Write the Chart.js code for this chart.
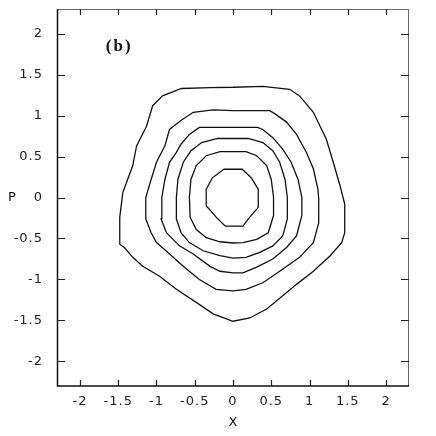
<!DOCTYPE html>
<html>
<head>
<meta charset="utf-8">
<script src="https://cdn.jsdelivr.net/npm/chart.js@4.4.0/dist/chart.umd.min.js"></script>
<style>
  html, body { margin: 0; padding: 0; background: #fff; }
  #wrap { width: 436px; height: 436px; }
</style>
</head>
<body>
<div id="wrap"><canvas id="c" width="436" height="436"></canvas></div>
<script>
// contour levels, outer to inner, each a closed list of [X, P] points
const curve1 = [[0,1.345],[0.39,1.355],[0.74,1.32],[0.87,1.24],[1.05,1.04],[1.22,0.71],[1.31,0.43],[1.40,0.14],[1.46,-0.08],
    [1.46,-0.43],[1.42,-0.55],[1.27,-0.71],[1.05,-0.90],[0.83,-1.06],[0.65,-1.20],[0.44,-1.36],[0.22,-1.47],[0,-1.51],
    [-0.26,-1.42],[-0.48,-1.28],[-0.74,-1.12],[-0.96,-0.96],[-1.18,-0.84],[-1.31,-0.73],[-1.42,-0.61],[-1.48,-0.57],
    [-1.48,-0.24],[-1.44,0.06],[-1.31,0.39],[-1.26,0.63],[-1.13,0.87],[-1.05,1.12],[-0.92,1.24],[-0.675,1.33],[-0.3,1.34],[0,1.345]];
const curve2 = [[0,1.06],[0.48,1.06],[0.55,1.02],[0.70,0.92],[0.83,0.77],[0.96,0.55],[1.05,0.35],[1.11,0.10],[1.12,-0.02],
    [1.12,-0.31],[1.05,-0.55],[0.87,-0.73],[0.61,-0.90],[0.39,-1.04],[0.17,-1.12],[0,-1.14],[-0.22,-1.12],[-0.44,-1.0],
    [-0.65,-0.84],[-0.85,-0.67],[-1.0,-0.55],[-1.07,-0.43],[-1.14,-0.26],[-1.14,0],[-1.07,0.22],[-1.0,0.43],[-0.89,0.63],
    [-0.83,0.83],[-0.68,0.94],[-0.52,1.04],[-0.26,1.07],[0,1.06]];
const curve3 = [[0,0.855],[0.32,0.855],[0.39,0.83],[0.52,0.73],[0.65,0.59],[0.76,0.43],[0.85,0.22],[0.90,0.0],[0.90,-0.22],
    [0.83,-0.47],[0.70,-0.61],[0.52,-0.75],[0.31,-0.85],[0.13,-0.92],[0,-0.92],[-0.17,-0.90],[-0.30,-0.84],[-0.52,-0.69],
    [-0.70,-0.59],[-0.87,-0.43],[-0.94,-0.26],[-0.93,0],[-0.89,0.22],[-0.83,0.43],[-0.74,0.55],[-0.68,0.65],[-0.57,0.77],
    [-0.44,0.855],[0,0.855]];
const curve4 = [[0,0.72],[0.2,0.72],[0.39,0.67],[0.52,0.57],[0.61,0.43],[0.68,0.22],[0.71,0],[0.71,-0.26],[0.65,-0.47],
    [0.52,-0.59],[0.35,-0.67],[0.17,-0.73],[0,-0.74],[-0.17,-0.71],[-0.39,-0.65],[-0.57,-0.55],[-0.68,-0.43],[-0.74,-0.26],
    [-0.74,0],[-0.72,0.22],[-0.65,0.43],[-0.55,0.57],[-0.41,0.67],[-0.2,0.72],[0,0.72]];
const curve5 = [[0,0.56],[0.17,0.56],[0.31,0.51],[0.44,0.39],[0.50,0.22],[0.53,0],[0.53,-0.22],[0.46,-0.43],[0.31,-0.51],
    [0.13,-0.55],[0,-0.555],[-0.17,-0.54],[-0.35,-0.49],[-0.48,-0.39],[-0.56,-0.24],[-0.57,0],[-0.55,0.22],[-0.48,0.39],
    [-0.35,0.51],[-0.17,0.56],[0,0.56]];
const curve6 = [[-0.12,0.345],[0.12,0.345],[0.24,0.24],[0.33,0.10],[0.33,-0.12],[0.2,-0.26],[0.13,-0.35],[-0.1,-0.35],
    [-0.2,-0.26],[-0.35,-0.10],[-0.35,0.10],[-0.27,0.24],[-0.12,0.345]];

const curves = [curve1, curve2, curve3, curve4, curve5, curve6];

// axis ticks
const xTicks = [-2, -1.5, -1, -0.5, 0, 0.5, 1, 1.5, 2];
const yTicks = [-2, -1.5, -1, -0.5, 0, 0.5, 1, 1.5, 2];
const xRange = [-2.3, 2.3];
const yRange = [-2.3, 2.3];

const panelLabel = "(b)";
const xTitle = "X";
const yTitle = "P";

// frame, inward ticks and the free-standing texts
const framePlugin = {
    id: 'frame',
    beforeDraw(chart) {
        // the old plot has widely spaced digits
        chart.ctx.letterSpacing = '1px';
    },
    afterDraw(chart) {
        const ctx = chart.ctx;
        const a = chart.chartArea;
        const xs = chart.scales.x, ys = chart.scales.y;
        ctx.save();
        // frame
        ctx.lineWidth = 1;
        ctx.strokeStyle = '#666';
        ctx.beginPath();
        ctx.moveTo(a.left, a.top + 0.5); ctx.lineTo(a.right, a.top + 0.5);
        ctx.moveTo(a.right - 0.5, a.top); ctx.lineTo(a.right - 0.5, a.bottom);
        ctx.stroke();
        ctx.lineWidth = 1.5;
        ctx.strokeStyle = '#111';
        ctx.beginPath();
        ctx.moveTo(a.left + 0.5, a.top); ctx.lineTo(a.left + 0.5, a.bottom);
        ctx.lineTo(a.right, a.bottom);
        ctx.stroke();
        // ticks
        ctx.lineWidth = 1.2;
        ctx.strokeStyle = '#222';
        ctx.beginPath();
        xTicks.forEach(v => {
            let px = Math.round(xs.getPixelForValue(v)) + 0.5;
            ctx.moveTo(px, a.bottom); ctx.lineTo(px, a.bottom - 6);
            ctx.moveTo(px, a.top); ctx.lineTo(px, a.top + 6);
        });
        yTicks.forEach(v => {
            let py = Math.round(ys.getPixelForValue(v)) + 0.5;
            ctx.moveTo(a.left, py); ctx.lineTo(a.left + 8, py);
            ctx.moveTo(a.right, py); ctx.lineTo(a.right - 8, py);
        });
        ctx.stroke();
        // texts
        ctx.fillStyle = '#111';
        ctx.textAlign = 'center';
        ctx.textBaseline = 'middle';
        ctx.letterSpacing = '0px';
        ctx.font = '13px "DejaVu Sans", sans-serif';
        ctx.fillText(yTitle, 12, ys.getPixelForValue(0));
        ctx.fillText(xTitle, xs.getPixelForValue(0), 423);
        ctx.letterSpacing = '2px';
        ctx.font = 'bold 17px "Liberation Serif", "Times New Roman", serif';
        ctx.fillText(panelLabel, xs.getPixelForValue(-1.5) + 1, ys.getPixelForValue(1.84));
        ctx.restore();
    }
};

const datasets = curves.map(c => ({
    data: c.map(p => ({x: p[0], y: p[1]})),
    showLine: true,
    borderColor: '#111',
    borderWidth: 1.3,
    pointRadius: 0,
    fill: false,
    tension: 0
}));

const tickFont = {family: '"DejaVu Sans", sans-serif', size: 13};

new Chart(document.getElementById('c').getContext('2d'), {
    type: 'scatter',
    data: {datasets: datasets},
    options: {
        responsive: false,
        animation: false,
        layout: {padding: {top: 9, right: 27, left: 0, bottom: 0}},
        plugins: {legend: {display: false}, tooltip: {enabled: false}},
        scales: {
            x: {
                type: 'linear', min: xRange[0], max: xRange[1],
                afterBuildTicks: s => { s.ticks = xTicks.map(v => ({value: v})); },
                afterFit: s => { s.height = 50; s.paddingLeft = 0; s.paddingRight = 0; },
                grid: {display: false, drawTicks: false},
                border: {display: false},
                ticks: {color: '#222', font: tickFont, padding: 8, maxRotation: 0, autoSkip: false,
                    callback: v => String(v)}
            },
            y: {
                type: 'linear', min: yRange[0], max: yRange[1],
                afterBuildTicks: s => { s.ticks = yTicks.map(v => ({value: v})); },
                afterFit: s => { s.width = 57; s.paddingTop = 0; s.paddingBottom = 0; },
                grid: {display: false, drawTicks: false},
                border: {display: false},
                ticks: {color: '#222', font: tickFont, padding: 14, autoSkip: false,
                    callback: v => String(v)}
            }
        }
    },
    plugins: [framePlugin]
});
</script>
</body>
</html>
